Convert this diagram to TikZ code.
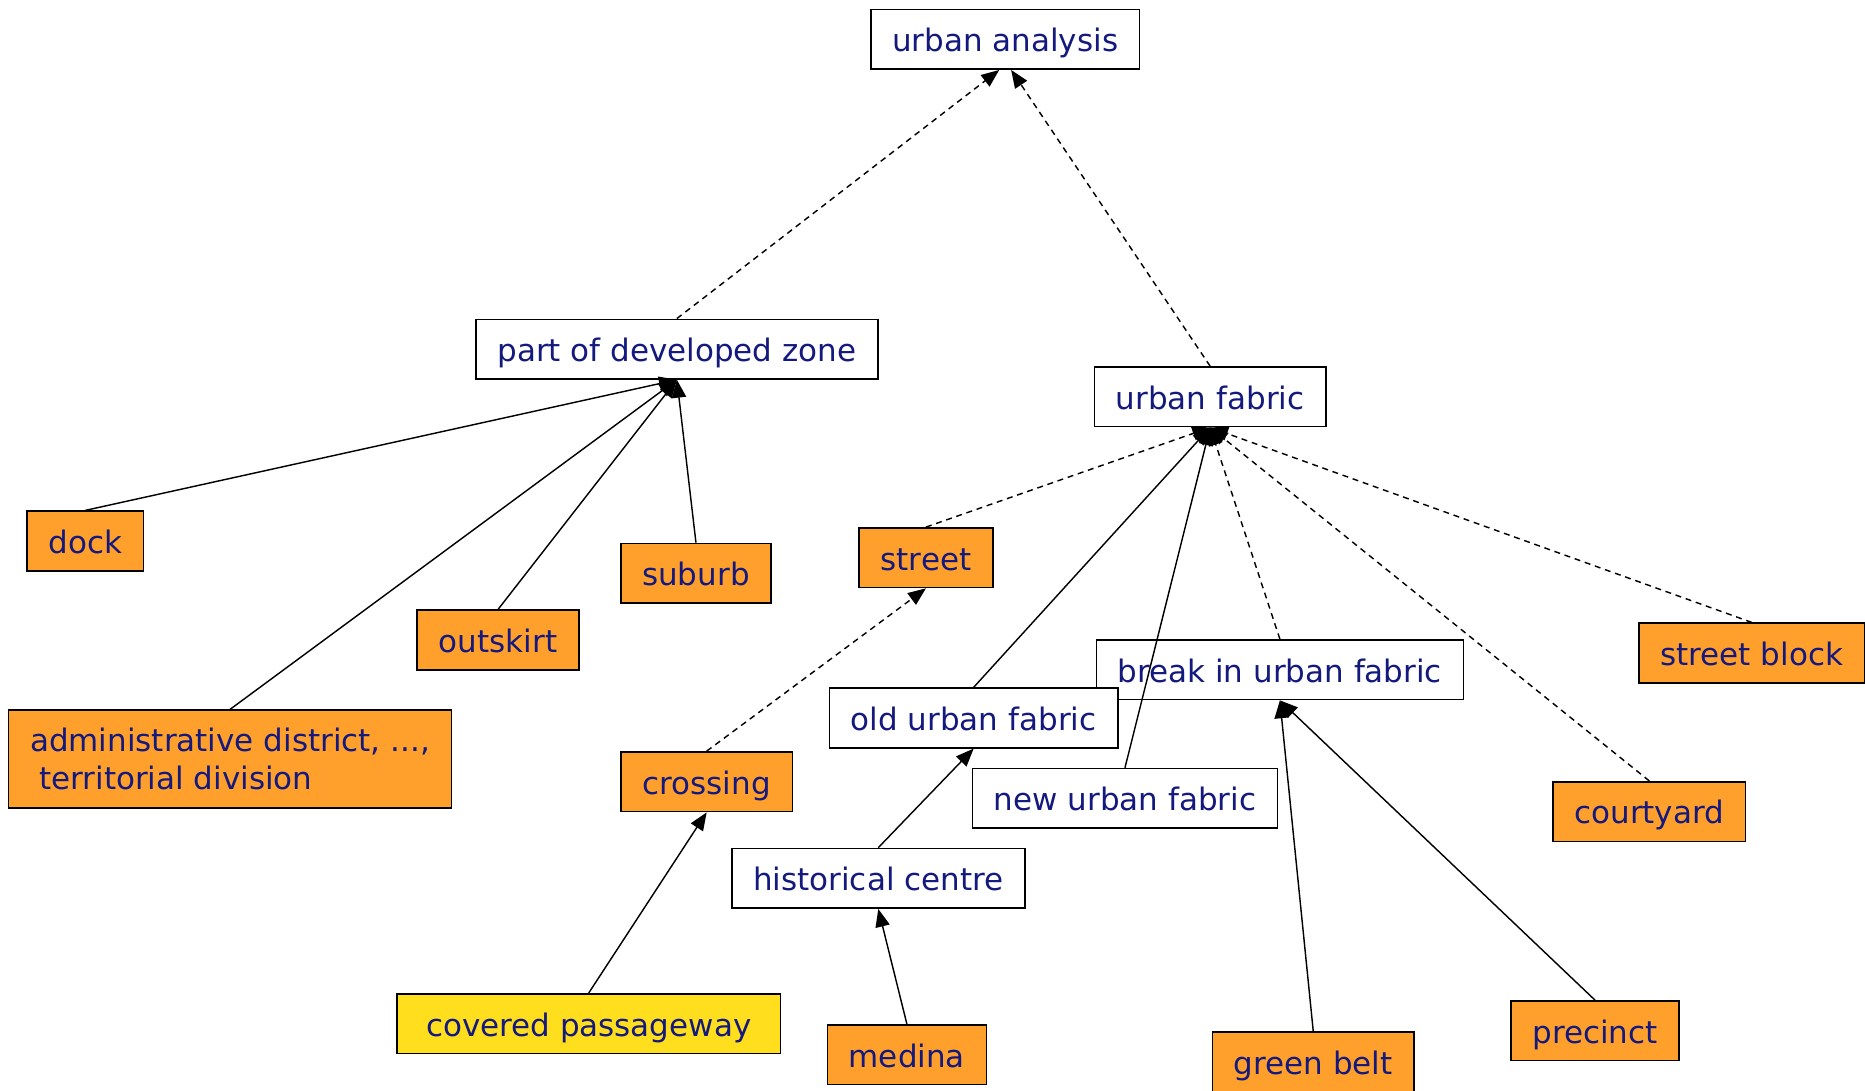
\documentclass[tikz,border=0pt]{standalone}
\usepackage{fontspec}
\setmainfont{DejaVu Sans}
\usetikzlibrary{arrows.meta}
\definecolor{termblue}{RGB}{20,25,125}
\definecolor{leaforange}{RGB}{255,160,45}
\definecolor{leafyellow}{RGB}{255,222,30}
\tikzset{
  box/.style={draw,fill=white,line width=0.7pt,text=termblue,
    font=\fontsize{13}{16}\selectfont,inner xsep=9pt,minimum height=25pt},
  term/.style={box,text height=10.4pt,text depth=0pt},
  leaf/.style={term,fill=leaforange},
  leafy/.style={term,fill=leafyellow},
  isa/.style={line width=0.6pt,-{Triangle[length=7.5pt,width=6pt]}},
  partof/.style={isa,dash pattern=on 2.5pt off 2pt}
}
\begin{document}
\begin{tikzpicture}[x=0.5pt,y=-0.5pt]
  \useasboundingbox (0,0) rectangle (1565,915);
  % concepts
  \node[term,minimum width=111.5pt] (ua) at (843.5,33) {urban analysis};
  \node[term,minimum width=168pt] (pdz) at (568,293) {part of developed zone};
  \node[term,minimum width=96.5pt] (uf) at (1015.5,333) {urban fabric};
  \node[term,minimum width=154pt] (break) at (1074,562) {break in urban fabric};
  \node[term,minimum width=121pt] (old) at (817,602.5) {old urban fabric};
  \node[term,minimum width=127pt] (new) at (944,670) {new urban fabric};
  \node[term,minimum width=122pt] (hist) at (737,737) {historical centre};

  % leaves
  \node[leaf,minimum width=48.5pt] (dock) at (71.5,454) {dock};
  \node[leaf,minimum width=63pt] (suburb) at (584,481) {suburb};
  \node[leaf,minimum width=68pt] (outskirt) at (418,537) {outskirt};
  \node[box,fill=leaforange,align=left,minimum width=185pt,minimum height=41pt]
    (admin) at (193,637)
    {administrative district, ...,\\\hspace*{.3em}territorial division};
  \node[leaf,minimum width=54pt] (street) at (777,468) {street};
  \node[leaf,minimum width=72pt] (crossing) at (593,656) {crossing};
  \node[leafy,minimum width=161pt] (covered) at (494,859) {covered passageway};
  \node[leaf,minimum width=65pt] (medina) at (761,885) {medina};
  \node[leaf,minimum width=83pt] (gbelt) at (1102,891) {green belt};
  \node[leaf,minimum width=69.5pt] (precinct) at (1338.5,865) {precinct};
  \node[leaf,minimum width=79pt] (courtyard) at (1384,681) {courtyard};
  \node[leaf,minimum width=93pt] (sblock) at (1470,548) {street block};

  % links
  \draw[partof] (pdz.north) -- ([xshift=-2.5pt]ua.south);
  \draw[partof] (uf.north) -- ([xshift=2.5pt]ua.south);
  \draw[isa] (dock.north) -- (pdz.south);
  \draw[isa] (admin.north) -- (pdz.south);
  \draw[isa] (outskirt.north) -- (pdz.south);
  \draw[isa] (suburb.north) -- (pdz.south);
  \draw[partof] (street.north) -- (uf.south);
  \draw[isa] (old.north) -- (uf.south);
  \draw[isa] (new.north) -- (uf.south);
  \draw[partof] (break.north) -- (uf.south);
  \draw[partof] (courtyard.north) -- (uf.south);
  \draw[partof] (sblock.north) -- (uf.south);
  \draw[partof] (crossing.north) -- (street.south);
  \draw[isa] (covered.north) -- (crossing.south);
  \draw[isa] (hist.north) -- (old.south);
  \draw[isa] (medina.north) -- (hist.south);
  \draw[isa] (gbelt.north) -- (break.south);
  \draw[isa] (precinct.north) -- (break.south);
\end{tikzpicture}
\end{document}
